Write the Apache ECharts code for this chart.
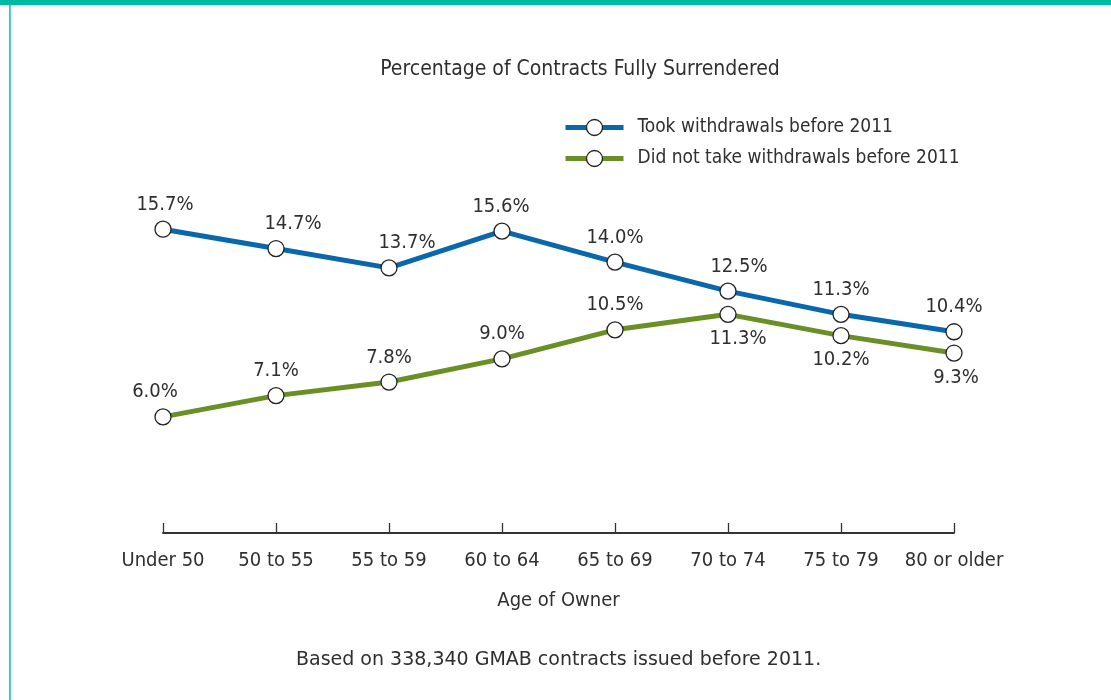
<!DOCTYPE html>
<html>
<head>
<meta charset="utf-8">
<style>
  html, body { margin: 0; padding: 0; background: #fff; }
  #chart { width: 1111px; height: 700px; }
</style>
<script src="https://cdn.jsdelivr.net/npm/echarts@6/dist/echarts.min.js"></script>
</head>
<body>
<div id="chart"></div>
<script>
  // categories and values
  const ageGroups = ['Under 50', '50 to 55', '55 to 59', '60 to 64', '65 to 69', '70 to 74', '75 to 79', '80 or older']
  const tookWithdrawals = [15.7, 14.7, 13.7, 15.6, 14.0, 12.5, 11.3, 10.4]
  const noWithdrawals = [6.0, 7.1, 7.8, 9.0, 10.5, 11.3, 10.2, 9.3]

  const fontFamily = '"DejaVu Sans Condensed", "Liberation Sans Narrow", sans-serif'
  const textColor = '#2f2f2f'

  // label placement per point (style only)
  const blueLabelOffsets = [[2, 0], [17, 0], [18, 0], [-1, 0], [0, 0], [11, 0], [0, 0], [0, 0]]
  const greenLabelPos = ['top', 'top', 'top', 'top', 'top', 'bottom', 'bottom', 'bottom']
  const greenLabelOffsets = [[-8, 0], [0, 0], [0, 0], [0, 0], [0, 0], [10, 0], [0, 0], [2, 0]]

  const chart = echarts.init(document.getElementById('chart'))

  function buildData(values, positions, offsets) {
    return values.map((v, i) => ({
      value: v,
      label: {
        position: positions ? positions[i] : 'top',
        offset: offsets[i]
      }
    }))
  }

  const seriesBase = {
    type: 'line',
    symbol: 'circle',
    symbolSize: 16,
    itemStyle: {
      color: '#fff',
      borderColor: '#222',
      borderWidth: 1.3
    },
    label: {
      show: true,
      distance: 6,
      formatter: p => p.value.toFixed(1) + '%',
      fontFamily: fontFamily,
      fontSize: 20,
      color: textColor
    },
    z: 3
  }

  chart.setOption({
    animation: false,
    backgroundColor: '#fff',
    title: {
      text: 'Percentage of Contracts Fully Surrendered',
      left: 575,
      textAlign: 'center',
      top: 54,
      textStyle: {
        fontFamily: fontFamily,
        fontWeight: 'normal',
        fontSize: 21,
        color: textColor
      }
    },
    legend: {
      orient: 'vertical',
      left: 563,
      top: 118,
      padding: 0,
      itemWidth: 58,
      itemHeight: 20,
      itemGap: 12,
      lineStyle: { width: 5 },
      itemStyle: { borderWidth: 1.3, borderColor: '#222' },
      textStyle: {
        fontFamily: fontFamily,
        fontSize: 19,
        color: textColor,
        padding: [0, 0, 0, 9]
      },
      data: ['Took withdrawals before 2011', 'Did not take withdrawals before 2011']
    },
    grid: {
      left: 163,
      right: 157,
      top: 146,
      bottom: 167
    },
    xAxis: {
      type: 'category',
      data: ageGroups,
      boundaryGap: false,
      name: 'Age of Owner',
      nameLocation: 'middle',
      nameGap: 58,
      nameTextStyle: {
        fontFamily: fontFamily,
        fontSize: 20,
        color: textColor
      },
      axisLine: {
        lineStyle: { color: '#333', width: 1.8 }
      },
      axisTick: {
        inside: true,
        length: 10,
        alignWithLabel: true,
        lineStyle: { color: '#333', width: 1.3 }
      },
      axisLabel: {
        margin: 18,
        fontFamily: fontFamily,
        fontSize: 20,
        color: textColor,
        interval: 0
      },
      splitLine: { show: false }
    },
    yAxis: {
      type: 'value',
      min: 0,
      max: 20,
      show: false
    },
    graphic: [
      {
        type: 'rect',
        shape: { x: 0, y: 0, width: 1111, height: 5 },
        style: { fill: '#00b9a1' }
      },
      {
        type: 'rect',
        shape: { x: 9, y: 5, width: 1.8, height: 695 },
        style: { fill: '#2dcdb4' }
      },
      {
        type: 'text',
        left: 296,
        top: 651,
        style: {
          text: 'Based on 338,340 GMAB contracts issued before 2011.',
          fontFamily: '"DejaVu Sans", sans-serif',
          fontSize: 19,
          fill: textColor
        }
      }
    ],
    series: [
      Object.assign({}, seriesBase, {
        name: 'Took withdrawals before 2011',
        data: buildData(tookWithdrawals, null, blueLabelOffsets),
        lineStyle: { color: '#0a67ab', width: 5 }
      }),
      Object.assign({}, seriesBase, {
        name: 'Did not take withdrawals before 2011',
        data: buildData(noWithdrawals, greenLabelPos, greenLabelOffsets),
        lineStyle: { color: '#6b8f27', width: 5 }
      })
    ]
  })
</script>
</body>
</html>
